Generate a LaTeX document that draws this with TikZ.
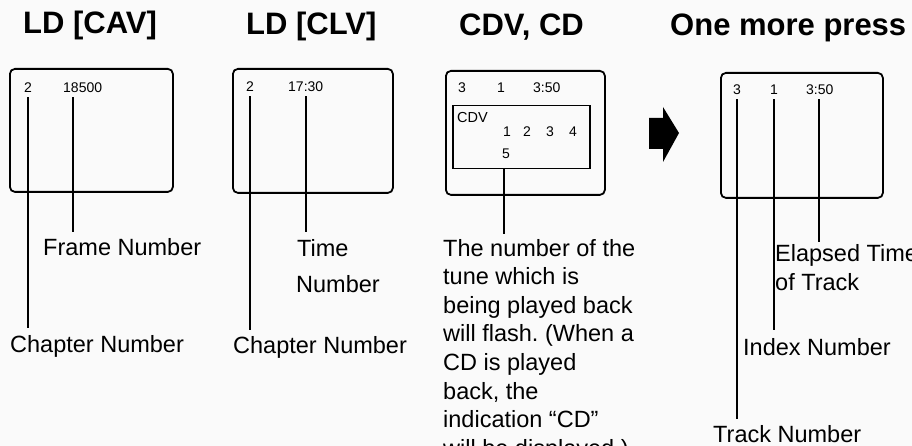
\documentclass[tikz,border=0pt]{standalone}
\usepackage{fontspec}
\setmainfont{Liberation Sans}
\frenchspacing
\begin{document}
\begin{tikzpicture}[x=1pt,y=-1pt,
  screen/.style={draw,line width=1.8pt,rounded corners=5pt,anchor=north west,inner sep=0pt},
  innerbox/.style={draw,line width=1.5pt,anchor=north west,inner sep=0pt},
  digit/.style={font=\fontsize{14}{16}\selectfont,inner sep=0pt,anchor=base west},
  title/.style={font=\fontsize{31}{34}\selectfont\bfseries,inner sep=0pt,anchor=base west},
  label/.style={font=\fontsize{23.5}{28.6}\selectfont,inner sep=0pt,anchor=base west,align=left},
  lead/.style={line width=1.4pt}]
\useasboundingbox (0,0) rectangle (912,446);
\clip (0,0) rectangle (912,446);
\fill[black!2] (0,0) rectangle (912,446);

% titles
\node[title] (tcav) at (23,34) {LD [CAV]};
\node[title] (tclv) at (246,35) {LD [CLV]};
\node[title] (tcdv) at (459,36) {CDV, CD};
\node[title] (tmore) at (670,36) {One more press};

% screen 1: CAV
\node[screen,minimum width=163pt,minimum height=123pt] (s1) at (9,68) {};
\node[digit] (a2) at (24,93) {2};
\node[digit] (a18) at (63,93) {18500};
\node[label] (achap) at (10,352) {Chapter Number};
\node[label] (aframe) at (43,255) {Frame Number};
\draw[lead,shorten >=7pt] ([yshift=-4pt]a2.south) -- (a2.south |- achap.north);
\draw[lead,shorten >=6pt] ([xshift=10pt,yshift=-4pt]a18.south west) -- ([xshift=10pt]a18.south west |- aframe.north);

% screen 2: CLV
\node[screen,minimum width=160pt,minimum height=124pt] (s2) at (232,68) {};
\node[digit] (b2) at (246,92) {2};
\node[digit] (b17) at (288,92) {17:30};
\node[label] (bchap) at (233,353) {Chapter Number};
\node[label] (btime) at (297,256) {Time};
\node[label] (bnum) at (296,292) {Number};
\draw[lead,shorten >=6pt] ([yshift=-4pt]b2.south) -- (b2.south |- bchap.north);
\draw[lead,shorten >=7pt] ([xshift=18pt,yshift=-4pt]b17.south west) -- ([xshift=18pt]b17.south west |- btime.north);

% screen 3: CDV, CD
\node[screen,minimum width=159pt,minimum height=124pt] (s3) at (445,70) {};
\node[digit] (c3) at (458,93) {3};
\node[digit] (c1) at (497,93) {1};
\node[digit] (c350) at (533,93) {3:50};
\node[innerbox,minimum width=137pt,minimum height=63pt] (cin) at (452,105) {};
\node[digit,font=\fontsize{14.5}{16}\selectfont] (ccdv) at (457,123) {CDV};
\node[digit] (t1) at (503,137) {1};
\node[digit] (t2) at (523,137) {2};
\node[digit] (t3) at (546,137) {3};
\node[digit] (t4) at (569,137) {4};
\node[digit] (t5) at (502,159) {5};
\node[label] (ctext) at (443,456.2) {The number of the\\tune which is\\being played back\\will flash. (When a\\CD is played\\back, the\\indication “CD”\\will be displayed.)};
\draw[lead,shorten >=5pt] ([xshift=-2pt]t5.south |- cin.south) -- ([xshift=-2pt]t5.south |- ctext.north);

% arrow
\fill (649,118) -- (663,118) -- (663,107) -- (679,133) -- (663,162) -- (663,149) -- (649,149) -- cycle;

% screen 4: one more press
\node[screen,minimum width=162pt,minimum height=125pt] (s4) at (720,72) {};
\node[digit] (d3) at (733,95) {3};
\node[digit] (d1) at (770,95) {1};
\node[digit] (d350) at (806,95) {3:50};
\node[label] (delap) at (775,290) {Elapsed Time\\of Track};
\node[label] (dindex) at (743,355) {Index Number};
\node[label] (dtrack) at (713,442) {Track Number};
\draw[lead,shorten >=6pt] ([yshift=-4pt]d3.south) -- (d3.south |- dtrack.north);
\draw[lead,shorten >=8pt] ([yshift=-4pt]d1.south) -- (d1.south |- dindex.north);
\draw[lead,shorten >=2pt] ([xshift=13pt,yshift=-4pt]d350.south west) -- ([xshift=13pt]d350.south west |- delap.north);
\end{tikzpicture}
\end{document}
